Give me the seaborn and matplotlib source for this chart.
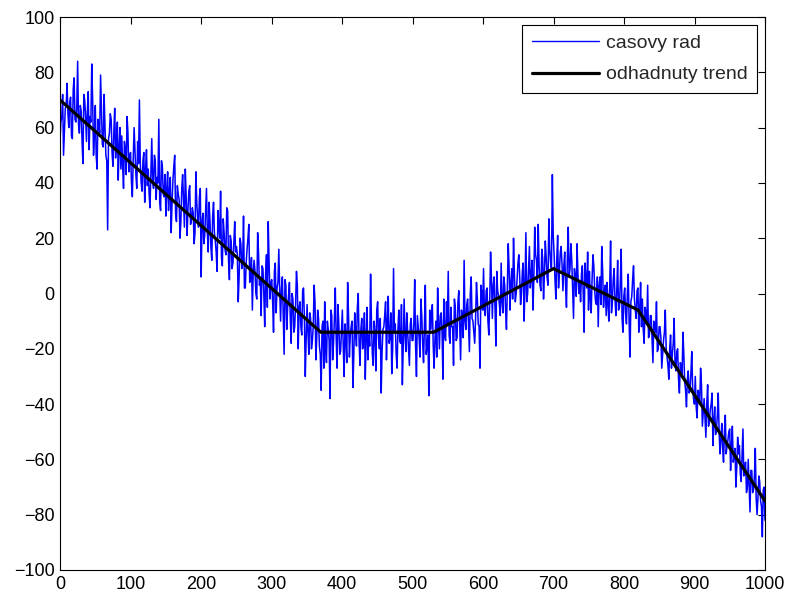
import numpy as np
import pandas as pd
import matplotlib
matplotlib.use("Agg")
import matplotlib.pyplot as plt
import seaborn as sns

# Noisy time series (800 samples over 0..1000)
casovy_rad = [
    55, 62, 64, 72, 50, 58, 67, 68, 76, 65,
    60, 69, 71, 57, 56, 74, 78, 63, 62, 67,
    84, 61, 58, 68, 66, 55, 47, 72, 70, 64,
    55, 66, 73, 52, 64, 62, 83, 70, 50, 57,
    68, 50, 45, 63, 61, 58, 79, 66, 54, 53,
    72, 60, 50, 48, 23, 56, 58, 65, 63, 51,
    46, 58, 67, 49, 55, 62, 41, 53, 60, 45,
    57, 46, 38, 55, 52, 43, 64, 58, 44, 50,
    51, 40, 35, 49, 60, 52, 43, 38, 55, 47,
    70, 47, 40, 37, 48, 51, 33, 45, 52, 39,
    45, 36, 31, 44, 56, 41, 38, 50, 48, 34,
    42, 40, 63, 33, 30, 48, 46, 36, 35, 43,
    28, 38, 44, 30, 37, 42, 22, 33, 41, 46,
    50, 29, 26, 39, 36, 34, 20, 26, 38, 43,
    33, 24, 45, 35, 21, 30, 37, 39, 25, 27,
    31, 29, 18, 22, 44, 33, 27, 24, 35, 38,
    6, 26, 29, 18, 21, 30, 38, 22, 15, 33,
    26, 17, 12, 28, 33, 22, 19, 15, 8, 30,
    24, 20, 37, 13, 10, 27, 22, 16, 14, 31,
    30, 12, 5, 21, 19, 9, 11, 18, 26, 15,
    17, 14, -3, 6, 20, 18, 9, 11, 28, 2,
    2, 11, 16, 20, 25, 4, 6, 13, -6, 8,
    12, 8, 0, -2, 22, 15, 3, 5, -8, 10,
    9, 0, -12, 7, 14, -5, 26, 11, -2, 4,
    5, -3, -14, 8, 11, -7, 2, 4, 16, 1,
    -10, 2, 6, -8, -22, 5, 3, -13, -5, -1,
    4, -9, -18, 0, -2, -14, -12, -4, 8, 3,
    -20, -5, -3, -12, -15, 1, 2, -9, -30, -16,
    -4, -14, -22, -7, -9, -20, -17, -12, 3, -3,
    -24, -16, -6, -9, -19, -22, -35, -12, -10, -27,
    -3, -20, -25, -10, -13, -17, -38, -6, -8, -24,
    -18, -9, 2, -16, -27, -4, -11, -22, -21, -13,
    -6, -19, -30, -11, -16, -25, 4, -8, -23, -15,
    -12, -10, -34, -22, -7, -14, -19, -5, 0, -18,
    -26, -13, -9, -20, -17, -7, -31, -16, -5, -24,
    -15, -19, 7, -11, -22, -26, -10, -14, -28, -6,
    -3, -16, -20, -9, -36, -21, -13, -12, -8, -3,
    -24, -10, -1, -18, -16, -7, -29, -20, 9, -14,
    -11, -22, -27, -13, -6, -17, -18, -4, -33, -19,
    -2, -15, -21, -7, -14, -20, -26, -11, -9, -17,
    -17, -11, 5, -19, -30, -8, -12, -16, -23, -2,
    -8, -18, -25, -12, 3, -22, -19, -15, -37, -6,
    -13, -9, -4, -19, -27, -16, -10, -23, 2, -11,
    -20, -8, -7, -14, -31, -2, -15, -17, -3, -11,
    8, -15, -18, -5, -12, -12, -26, -2, -5, -17,
    -16, -3, 1, -12, -24, -6, -9, -16, 12, -10,
    -13, -4, -2, -11, -21, 0, 6, -9, -10, -14,
    -18, -9, 4, -2, -11, -12, -27, 3, 0, -6,
    9, -6, -8, 1, 2, -10, -15, -3, 15, 5,
    -9, 3, 6, -5, -19, 8, 1, -1, -4, -8,
    11, -3, -7, 6, 3, -6, -13, 2, 18, 9,
    -6, 4, 9, -2, 20, 7, -3, 0, 5, 11,
    14, 6, -4, 0, 8, 11, -10, 3, 22, -3,
    0, 9, 17, 2, 6, 12, -6, 5, 24, 14,
    12, 4, 25, 10, 3, 1, 16, 13, -2, 7,
    19, 13, 6, 3, 27, 16, 11, 9, 43, 21,
    14, 5, -2, 12, 21, 2, 8, 15, 17, 10,
    1, 10, 15, 3, -5, 13, 24, 6, 9, 18,
    12, 2, -9, 9, 6, -1, 18, 7, 0, 4,
    -3, 7, 10, 0, -14, 11, 5, 2, 15, -6,
    8, -1, -7, 5, 14, 10, 1, -3, -4, 6,
    -12, 3, 6, -4, 17, 8, -5, 1, 3, -8,
    4, -4, -10, 2, 19, -7, -3, 5, 9, -2,
    -8, 1, 12, -6, -5, 4, 16, -9, -14, -1,
    2, -7, -11, 0, 7, -10, -23, -3, -1, 5,
    10, -2, -6, -9, 1, 2, -14, -6, 4, -12,
    -2, -13, -18, -5, -7, -11, 3, -16, -15, -8,
    -8, -17, -25, -10, -11, -14, -3, -21, -20, -12,
    -12, -16, -27, -22, -17, -14, -6, -20, -23, -26,
    -31, -20, -15, -27, -22, -18, -9, -25, -28, -21,
    -20, -31, -36, -25, -26, -30, -14, -22, -32, -35,
    -41, -31, -28, -36, -35, -29, -21, -34, -38, -40,
    -30, -41, -45, -35, -36, -40, -27, -33, -48, -43,
    -38, -45, -52, -40, -33, -48, -46, -42, -40, -36,
    -55, -46, -41, -51, -49, -44, -36, -50, -58, -53,
    -47, -56, -61, -50, -44, -58, -55, -53, -50, -49,
    -64, -55, -48, -61, -59, -56, -70, -63, -52, -58,
    -55, -65, -68, -59, -49, -66, -63, -61, -72, -70,
    -60, -69, -79, -64, -64, -72, -71, -66, -56, -74,
    -80, -74, -66, -68, -75, -77, -88, -71, -70, -82,
]

# Estimated piecewise-linear trend (breakpoints)
trend_x = [0, 370, 530, 700, 820, 1000]
trend_y = [70, -14, -14, 9, -6, -75]

x_ticks = list(range(0, 1001, 100))
y_ticks = list(range(-100, 101, 20))
labels = ["casovy rad", "odhadnuty trend"]

series_df = pd.DataFrame({"t": np.linspace(0, 1000, len(casovy_rad)), "y": casovy_rad})
trend_df = pd.DataFrame({"t": trend_x, "y": trend_y})

sns.set_style("white")
plt.rcParams["font.family"] = ["Liberation Sans", "DejaVu Sans"]

fig = plt.figure(figsize=(7.88, 6.01), dpi=100)
ax = fig.add_axes([60 / 788, 1 - 570 / 601, 705 / 788, 553 / 601])

sns.lineplot(data=series_df, x="t", y="y", ax=ax, color=(0, 0, 1), linewidth=1.1,
             estimator=None, sort=False, label=labels[0])
sns.lineplot(data=trend_df, x="t", y="y", ax=ax, color="black", linewidth=2.3,
             estimator=None, sort=False, label=labels[1])

ax.set_xlim(0, 1000)
ax.set_ylim(-100, 100)
ax.set_xticks(x_ticks)
ax.set_yticks(y_ticks)
ax.set_xlabel("")
ax.set_ylabel("")
ax.tick_params(direction="in", length=5, width=0.8, top=True, right=True,
               labelsize=13, colors="black", pad=4)
ax.tick_params(axis="x", labeltop=False)
ax.tick_params(axis="y", labelright=False)
for s in ax.spines.values():
    s.set_visible(True)
    s.set_color("black")
    s.set_linewidth(0.8)

leg = ax.legend(loc="upper right", fontsize=14, frameon=True, fancybox=False,
                edgecolor="black", framealpha=1, handlelength=3.45,
                borderaxespad=0.4, borderpad=0.5, labelspacing=0.7, handletextpad=0.35)
leg.get_frame().set_linewidth(0.8)
for h in leg.get_lines():
    h.set_linewidth(1.0 if h.get_color() != "black" else 2.3)

fig.savefig("out.png", dpi=100)
